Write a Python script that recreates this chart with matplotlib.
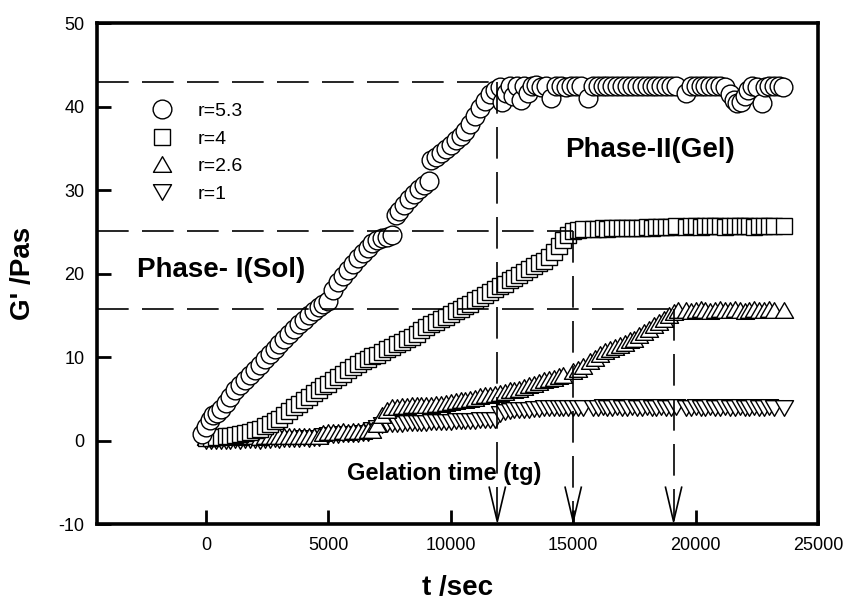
import matplotlib
matplotlib.use("Agg")
import matplotlib.pyplot as plt
from matplotlib.path import Path

plt.rcParams['font.family'] = ['Liberation Sans', 'DejaVu Sans']
plt.rcParams['axes.unicode_minus'] = False

# r = 1 (storage modulus, Pa) vs time (s)
t_r1 = [0, 200, 400, 600, 800, 1000, 1200, 1400, 1600, 1800, 2000, 2200, 2400, 2600,
        2800, 3000, 3200, 3400, 3600, 3800, 4000, 4200, 4400, 4600, 4800, 5000, 5200,
        5400, 5600, 5800, 6000, 6200, 6400, 6600, 6800, 7000, 7200, 7400, 7600, 7800,
        8000, 8200, 8400, 8600, 8800, 9000, 9200, 9400, 9600, 9800, 10000, 10200,
        10400, 10600, 10800, 11000, 11200, 11400, 11600, 11800, 12000, 12200, 12400,
        12600, 12800, 13000, 13200, 13400, 13600, 13800, 14000, 14200, 14400, 14600,
        14800, 15000, 15200, 15400,
        15800, 16000, 16200, 16400, 16600, 16800, 17000, 17200, 17400, 17600, 17800,
        18000, 18200, 18400, 18600, 18800, 19000, 19200,
        19600, 19800, 20000, 20200, 20400, 20600, 20800, 21000, 21200, 21400, 21600,
        21800, 22000, 22200, 22400, 22600, 22800, 23000, 23200,
        23600]
g_r1 = [-0.1, 0.0, 0.0, -0.1, 0.0, 0.0, 0.1, 0.0, 0.1, 0.1, 0.1, 0.0, 0.1, 0.1,
        0.2, 0.1, 0.2, 0.2, 0.2, 0.2, 0.3, 0.2, 0.3, 0.3, 0.5, 0.7, 0.7,
        0.7, 0.8, 0.8, 0.8, 0.8, 0.9, 0.9, 1.2, 1.5, 1.8, 2.0, 2.0, 2.0,
        2.0, 2.1, 2.1, 2.1, 2.1, 2.1, 2.2, 2.2, 2.2, 2.2, 2.2, 2.3,
        2.3, 2.3, 2.3, 2.3, 2.4, 2.4, 2.4, 2.5, 3.2, 3.4, 3.5,
        3.6, 3.6, 3.7, 3.7, 3.8, 3.8, 3.9, 3.9, 3.9, 3.9, 3.9,
        3.9, 3.9, 3.9, 3.9,
        3.9, 3.9, 4.0, 3.9, 3.9, 4.0, 3.9, 3.9, 4.0, 3.9, 3.9,
        4.0, 3.9, 3.9, 4.0, 3.9, 3.9, 4.0,
        3.9, 3.9, 4.0, 3.9, 3.9, 4.0, 3.9, 3.9, 4.0, 3.9, 3.9,
        4.0, 3.9, 3.9, 4.0, 3.9, 3.9, 4.0, 3.9,
        3.9]

# r = 2.6
t_r26 = [0, 200, 400, 600, 800, 1000, 1200, 1400, 1600, 1800, 2000, 2200, 2400, 2600,
         2800, 3000, 3200, 3400, 3600, 3800, 4000, 4200, 4400, 4600, 4800, 5000, 5200,
         5400, 5600, 5800, 6000, 6200, 6400, 6600, 6800, 7000, 7200, 7400, 7600, 7800,
         8000, 8200, 8400, 8600, 8800, 9000, 9200, 9400, 9600, 9800, 10000, 10200,
         10400, 10600, 10800, 11000, 11200, 11400, 11600, 11800, 12000, 12200, 12400,
         12600, 12800, 13000, 13200, 13400, 13600, 13800, 14000, 14200, 14400, 14600,
         15000, 15200, 15400,
         15700, 15900, 16100, 16300, 16500, 16700, 16900, 17100, 17300, 17500, 17700,
         17900, 18100, 18300, 18500, 18700, 18900, 19100, 19300,
         19600, 19800, 20000, 20200, 20400, 20600, 20800, 21000, 21200, 21400, 21600,
         21800, 22000, 22200, 22400, 22600, 22800, 23000, 23200,
         23600]
g_r26 = [0.4, 0.4, 0.5, 0.4, 0.4, 0.5, 0.5, 0.4, 0.5, 0.5, 0.5, 0.4, 0.5, 0.5,
         0.5, 0.5, 0.6, 0.5, 0.5, 0.6, 0.6, 0.5, 0.6, 0.6, 0.9, 1.0, 1.0,
         1.0, 1.1, 1.0, 1.1, 1.1, 1.1, 1.2, 1.2, 2.0, 3.0, 3.7, 4.0, 4.0,
         4.1, 4.1, 4.2, 4.2, 4.2, 4.3, 4.3, 4.4, 4.4, 4.5, 4.6, 4.7,
         4.8, 4.9, 5.0, 5.1, 5.3, 5.4, 5.5, 5.6, 5.7, 5.8, 6.0,
         6.1, 6.2, 6.4, 6.6, 6.8, 7.0, 7.2, 7.4, 7.5, 7.7, 7.8,
         8.3, 8.6, 8.9,
         9.5, 9.9, 10.4, 10.7, 11.0, 11.2, 11.4, 11.7, 12.0, 12.2, 12.6,
         13.0, 13.4, 13.8, 14.2, 14.6, 15.0, 15.4, 15.6,
         15.6, 15.5, 15.6, 15.7, 15.6, 15.5, 15.6, 15.7, 15.6, 15.6, 15.7,
         15.6, 15.5, 15.6, 15.7, 15.6, 15.6, 15.7, 15.6,
         15.6]

# r = 4
t_r4 = [0, 200, 400, 600, 800, 1000, 1200, 1400, 1600, 1800, 2000, 2200, 2400, 2600,
        2800, 3000, 3200, 3400, 3600, 3800, 4000, 4200, 4400, 4600, 4800, 5000, 5200,
        5400, 5600, 5800, 6000, 6200, 6400, 6600, 6800, 7000, 7200, 7400, 7600, 7800,
        8000, 8200, 8400, 8600, 8800, 9000, 9200, 9400, 9600, 9800, 10000, 10200,
        10400, 10600, 10800, 11000, 11200, 11400, 11600, 11800, 12000, 12200, 12400,
        12600, 12800, 13000, 13200, 13400, 13600, 13800, 14000, 14200, 14400, 14600,
        14800, 15000, 15200, 15400,
        15800, 16000, 16200, 16400, 16600, 16800, 17000, 17200, 17400, 17600, 17800,
        18000, 18200, 18400, 18600, 18800, 19000, 19200,
        19600, 19800, 20000, 20200, 20400, 20600, 20800, 21000, 21200, 21400, 21600,
        21800, 22000, 22200, 22400, 22600, 22800, 23000, 23200,
        23600]
g_r4 = [0.3, 0.3, 0.4, 0.4, 0.5, 0.6, 0.7, 0.8, 0.9, 1.0, 1.2, 1.4, 1.7, 2.0,
        2.3, 2.6, 3.0, 3.5, 4.0, 4.4, 4.8, 5.2, 5.7, 6.1, 6.5, 6.8, 7.2,
        7.6, 8.0, 8.4, 8.8, 9.2, 9.5, 9.8, 10.1, 10.3, 10.6, 10.9, 11.2, 11.5,
        11.8, 12.1, 12.4, 12.8, 13.2, 13.6, 13.9, 14.2, 14.5, 14.8, 15.2, 15.5,
        15.8, 16.1, 16.4, 16.8, 17.1, 17.4, 17.8, 18.1, 18.5, 18.8, 19.2,
        19.5, 19.8, 20.2, 20.5, 20.9, 21.2, 21.5, 22.0, 22.6, 23.3, 24.0,
        24.6, 25.1, 25.2, 25.3,
        25.3, 25.3, 25.4, 25.3, 25.4, 25.4, 25.5, 25.4, 25.5, 25.5, 25.5,
        25.6, 25.5, 25.6, 25.6, 25.6, 25.6, 25.7,
        25.6, 25.7, 25.7, 25.6, 25.7, 25.7, 25.7, 25.7, 25.6, 25.7, 25.7,
        25.7, 25.7, 25.7, 25.6, 25.7, 25.7, 25.7, 25.7,
        25.7]

# r = 5.3
t_r53 = [-150, 0, 150, 300, 450, 600, 800, 1000, 1200, 1400, 1600, 1800, 2000, 2200,
         2400, 2600, 2800, 3000, 3200, 3400, 3600, 3800, 4000, 4200, 4400, 4600, 4800,
         5000, 5200, 5400, 5600, 5800, 6000, 6200, 6400, 6600, 6800, 7000, 7200, 7400,
         7600, 7750, 7900, 8100, 8300, 8500, 8700, 8900, 9100, 9200, 9400, 9600, 9800,
         10000, 10200, 10400, 10600, 10800, 11000, 11200, 11400, 11600, 11800,
         12000, 12100, 12250, 12400, 12550, 12700, 12850, 13000, 13150, 13300, 13500,
         13700, 13900, 14100, 14300, 14500, 14700, 14900, 15100, 15300, 15600, 15800,
         16000, 16200, 16400, 16600, 16800, 17000, 17200, 17400, 17600, 17800, 18000,
         18200, 18400, 18600, 18800, 19000, 19200, 19600, 19800, 20000, 20200, 20400,
         20600, 20800, 21000, 21200, 21400, 21550, 21700, 21850, 22000, 22150, 22300,
         22500, 22700, 22850, 23000, 23200, 23400, 23550]
g_r53 = [0.8, 1.6, 2.4, 3.0, 3.3, 3.8, 4.5, 5.2, 6.0, 6.7, 7.3, 7.9, 8.4, 9.1,
         9.8, 10.4, 11.0, 11.6, 12.2, 12.7, 13.3, 13.9, 14.4, 15.0, 15.5, 16.0, 16.3,
         16.7, 18.0, 19.0, 19.7, 20.4, 21.1, 21.9, 22.5, 23.1, 23.6, 24.0, 24.2, 24.4,
         24.6, 27.0, 27.5, 28.2, 28.9, 29.5, 30.1, 30.6, 31.1, 33.6, 34.0, 34.4, 34.9,
         35.4, 36.0, 36.5, 37.1, 37.9, 38.9, 39.8, 40.7, 41.5, 42.0,
         42.3, 40.6, 41.6, 42.5, 41.2, 42.4, 40.8, 42.5, 41.6, 42.4, 42.6,
         42.3, 42.5, 41.0, 42.4, 42.5, 42.3, 42.5, 42.4, 42.5, 41.0, 42.5,
         42.4, 42.5, 42.4, 42.5, 42.4, 42.5, 42.4, 42.4, 42.5, 42.4, 42.5,
         42.4, 42.4, 42.5, 42.4, 42.5, 42.4, 41.6, 42.5, 42.4, 42.5, 42.4,
         42.4, 42.5, 42.4, 42.3, 41.5, 40.8, 40.4, 40.6, 41.3, 42.0, 42.4,
         42.3, 40.4, 42.3, 42.4, 42.4, 42.4, 42.3]

# plateau levels and gelation times
plateau_levels = [42.9, 25.1, 15.75]
gel_times = [11900, 15000, 19100]

fig = plt.figure(figsize=(8.49, 6.01), dpi=100)
ax = fig.add_axes([0.1143, 0.1281, 0.8492, 0.8336])

# equilateral open triangles
codes = [Path.MOVETO, Path.LINETO, Path.LINETO, Path.CLOSEPOLY]
tri_up = Path([(0, 0.433), (-0.5, -0.433), (0.5, -0.433), (0, 0.433)], codes)
tri_dn = Path([(0, -0.433), (-0.5, 0.433), (0.5, 0.433), (0, -0.433)], codes)
mk = dict(linestyle='none', markerfacecolor='white', markeredgecolor='black',
          markeredgewidth=1.0)

h1, = ax.plot(t_r1, g_r1, marker=tri_dn, markersize=13, label='r=1', **mk)
h26, = ax.plot(t_r26, g_r26, marker=tri_up, markersize=13, label='r=2.6', **mk)
h4, = ax.plot(t_r4, g_r4, marker='s', markersize=12, label='r=4', **mk)
h53, = ax.plot(t_r53, g_r53, marker='o', markersize=13.5, label='r=5.3', **mk)

# dashed guide lines: plateau level -> gelation time -> x axis
for lvl, tg in zip(plateau_levels, gel_times):
    ax.plot([-4450, tg], [lvl, lvl], color='black', lw=1.2, dashes=(19, 8))
    ax.plot([tg, tg], [lvl, -10], color='black', lw=1.2, dashes=(19, 8))
    ax.plot([tg - 330, tg, tg + 330], [-5.6, -9.7, -5.6], color='black', lw=1.2)

ax.text(-2800, 20.4, 'Phase- I(Sol)', fontsize=20, fontweight='bold',
        ha='left', va='center')
ax.text(14650, 34.8, 'Phase-II(Gel)', fontsize=20, fontweight='bold',
        ha='left', va='center')
ax.text(5750, -3.9, 'Gelation time (tg)', fontsize=17, fontweight='bold',
        ha='left', va='center')

ax.legend(handles=[h53, h4, h26, h1], loc='upper left', bbox_to_anchor=(0.077, 0.842),
          frameon=False, fontsize=14, borderpad=0, borderaxespad=0,
          handlelength=1.0, handletextpad=1.3, labelspacing=0.52)

ax.set_xlim(-4450, 25000)
ax.set_ylim(-10, 50)
ax.set_xticks([0, 5000, 10000, 15000, 20000, 25000])
ax.set_yticks([-10, 0, 10, 20, 30, 40, 50])
ax.tick_params(direction='in', length=10, width=2, labelsize=13, pad=9,
               top=False, right=False)
for sp in ax.spines.values():
    sp.set_linewidth(2.6)

ax.set_xlabel('t /sec', fontsize=20, fontweight='bold')
ax.set_ylabel("G' /Pas", fontsize=20, fontweight='bold')
ax.xaxis.set_label_coords(0.5, -0.102)
ax.yaxis.set_label_coords(-0.085, 0.5)

fig.savefig('out.png', dpi=100)
